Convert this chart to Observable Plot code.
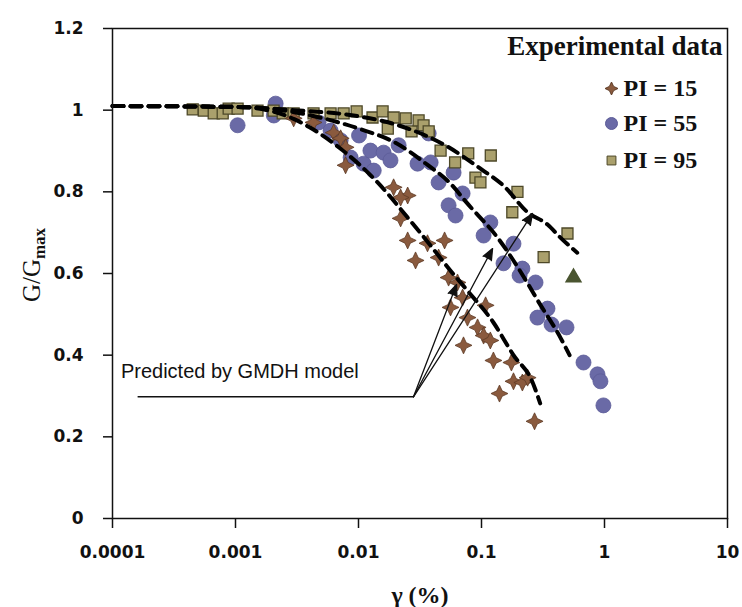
<!DOCTYPE html>
<html>
<head>
<meta charset="utf-8">
<script src="https://cdn.jsdelivr.net/npm/d3@7"></script>
<script src="https://cdn.jsdelivr.net/npm/@observablehq/plot@0.6"></script>
<style>
  html, body { margin: 0; padding: 0; background: #fff; }
  #chart svg { display: block; }
</style>
</head>
<body>
<div id="chart"></div>
<script>
// ---- axis ticks ----
const xTicks = [1e-4, 1e-3, 1e-2, 1e-1, 1, 10];
const xTickLabels = ["0.0001", "0.001", "0.01", "0.1", "1", "10"];
const yTicks = [0, 0.2, 0.4, 0.6, 0.8, 1, 1.2];
const yTickLabels = ["0", "0.2", "0.4", "0.6", "0.8", "1", "1.2"];

// ---- experimental data: PI = 15 (stars) ----
const pi15Gamma = [0.00297, 0.00431, 0.00628, 0.00716, 0.00785, 0.00785, 0.0193, 0.0251, 0.022, 0.022,
  0.0251, 0.0364, 0.0501, 0.0291, 0.0448, 0.054, 0.0638, 0.0702, 0.056, 0.108,
  0.0769, 0.0929, 0.104, 0.118, 0.0714, 0.125, 0.175, 0.182, 0.215, 0.237, 0.14, 0.27];
const pi15G = [0.980, 0.970, 0.945, 0.931, 0.909, 0.865, 0.811, 0.791, 0.786, 0.735,
  0.681, 0.674, 0.681, 0.632, 0.639, 0.590, 0.578, 0.541, 0.517, 0.522,
  0.492, 0.468, 0.448, 0.436, 0.424, 0.387, 0.382, 0.336, 0.333, 0.345, 0.306, 0.238];

// ---- experimental data: PI = 55 (circles) ----
const pi55Gamma = [0.00104, 0.00212, 0.00205, 0.00474, 0.00593, 0.00716, 0.00863, 0.0101, 0.011, 0.0133,
  0.0125, 0.016, 0.0182, 0.0212, 0.0302, 0.0372, 0.0386, 0.0448, 0.0593, 0.0702,
  0.054, 0.0615, 0.118, 0.104, 0.182, 0.151, 0.215, 0.204, 0.275, 0.344,
  0.285, 0.371, 0.491, 0.675, 0.877, 0.927, 0.98];
const pi55G = [0.963, 1.016, 0.987, 0.970, 0.950, 0.926, 0.884, 0.938, 0.869, 0.852,
  0.901, 0.896, 0.877, 0.914, 0.869, 0.943, 0.872, 0.823, 0.847, 0.796,
  0.767, 0.742, 0.725, 0.693, 0.673, 0.625, 0.612, 0.595, 0.578, 0.514,
  0.492, 0.475, 0.468, 0.382, 0.353, 0.336, 0.277];

// ---- experimental data: PI = 95 (squares) ----
const pi95Gamma = [0.000449, 0.000552, 0.000665, 0.000787, 0.00088, 0.00104, 0.00151, 0.00204, 0.00242, 0.00297,
  0.00431, 0.00593, 0.00757, 0.00966, 0.013, 0.0157, 0.0173, 0.0193, 0.0242, 0.027,
  0.0308, 0.0338, 0.0372, 0.0465, 0.061, 0.078, 0.119, 0.0893, 0.098, 0.178,
  0.196, 0.32, 0.50];
const pi95G = [1.002, 0.999, 0.992, 0.992, 1.004, 1.004, 0.999, 0.999, 0.992, 0.992,
  0.992, 0.992, 0.992, 0.997, 0.982, 0.997, 0.955, 0.982, 0.980, 0.948,
  0.975, 0.963, 0.948, 0.901, 0.872, 0.894, 0.889, 0.835, 0.823, 0.750,
  0.800, 0.640, 0.698];

// odd marker (triangle) near the PI = 95 curve end
const triGamma = [0.56];
const triG = [0.59];

// ---- GMDH model curves (dashed) ----
const m15Gamma = [1e-4, 1e-3, 2e-3, 3e-3, 4e-3, 5e-3, 7.2e-3, 0.0143, 0.0251, 0.0338, 0.056, 0.0769, 0.125, 0.182, 0.259, 0.30];
const m15G     = [1.01, 1.008, 0.997, 0.978, 0.958, 0.940, 0.905, 0.823, 0.737, 0.690, 0.607, 0.558, 0.480, 0.400, 0.335, 0.282];
const m55Gamma = [1e-4, 1e-3, 3e-3, 6e-3, 0.01, 0.02, 0.035, 0.056, 0.077, 0.135, 0.237, 0.285, 0.438, 0.52];
const m55G     = [1.01, 1.008, 0.995, 0.975, 0.955, 0.92, 0.87, 0.82, 0.771, 0.688, 0.576, 0.535, 0.443, 0.40];
const m95Gamma = [1e-4, 1e-3, 3e-3, 0.01, 0.02, 0.05, 0.1, 0.151, 0.237, 0.344, 0.438, 0.60];
const m95G     = [1.01, 1.008, 1.0, 0.985, 0.965, 0.915, 0.855, 0.815, 0.75, 0.72, 0.688, 0.651];

// ---- annotation ----
const noteText = "Predicted by GMDH model";
const noteAt = {gamma: 1.17e-4, G: 0.36};
const leaderStart = {gamma: 1.6e-4, G: 0.298};
const leaderJoin = {gamma: 0.028, G: 0.298};
const arrowTipGamma = [0.0627, 0.123, 0.26];
const arrowTipG = [0.573, 0.661, 0.747];

// ---- legend ----
const legendTitle = "Experimental data";
const legendLabels = ["PI = 15", "PI = 55", "PI = 95"];

// ---- colours ----
const c15 = "#8a5a3e", c15s = "#5e3b26";
const c55 = "#6a6aa6", c55s = "#5c5c98";
const c95 = "#aaa06c", c95s = "#4d4828";
const cTri = "#4a5530";

// four-pointed star symbol
const star4 = {
  draw(ctx, size) {
    const R = Math.sqrt(size / Math.PI);
    const w = R * 0.32;
    ctx.moveTo(0, -R);
    ctx.lineTo(w, -w);
    ctx.lineTo(R, 0);
    ctx.lineTo(w, w);
    ctx.lineTo(0, R);
    ctx.lineTo(-w, w);
    ctx.lineTo(-R, 0);
    ctx.lineTo(-w, -w);
    ctx.closePath();
  }
};

const toRows = (gs, Gs) => gs.map((g, i) => ({gamma: g, G: Gs[i]}));
const d15 = toRows(pi15Gamma, pi15G);
const d55 = toRows(pi55Gamma, pi55G);
const d95 = toRows(pi95Gamma, pi95G);
const dTri = toRows(triGamma, triG);
const curves = [toRows(m15Gamma, m15G), toRows(m55Gamma, m55G), toRows(m95Gamma, m95G)];
const arrows = arrowTipGamma.map((g, i) => ({x1: leaderJoin.gamma, y1: leaderJoin.G, x2: g, y2: arrowTipG[i]}));

const serif = "'Liberation Serif', 'Times New Roman', serif";
const legendMarks = [];
const legendSymbols = [star4, "circle", "square"];
const legendFill = [c15, c55, c95];
const legendStroke = [c15s, c55s, c95s];
const legendR = [6.5, 6, 5];
const legendDy = [60, 95, 132];
legendLabels.forEach((lab, i) => {
  legendMarks.push(Plot.dot([lab], {frameAnchor: "top-right", dx: -116, dy: legendDy[i],
    symbol: legendSymbols[i], r: legendR[i], fill: legendFill[i], stroke: legendStroke[i], strokeWidth: 1}));
  legendMarks.push(Plot.text([lab], {frameAnchor: "top-right", dx: -104, dy: legendDy[i], text: d => d,
    textAnchor: "start", lineAnchor: "middle", fontFamily: serif, fontWeight: "bold", fontSize: 24, fill: "#111"}));
});

const chart = Plot.plot({
  width: 742,
  height: 607,
  marginLeft: 112,
  marginRight: 15,
  marginTop: 28,
  marginBottom: 89,
  x: {type: "log", domain: [1e-4, 10]},
  y: {domain: [0, 1.2]},
  style: {fontFamily: "'DejaVu Sans', sans-serif", fontSize: "17px", fontWeight: "bold", color: "#111", background: "#fff"},
  marks: [
    Plot.axisX({ticks: xTicks, tickFormat: d => xTickLabels[xTicks.indexOf(d)], tickSize: 10, tickPadding: 17,
      strokeWidth: 1.5, label: null, fontSize: 17, fontWeight: "bold"}),
    Plot.axisY({ticks: yTicks, tickFormat: d => yTickLabels[yTicks.indexOf(d)], tickSize: 9, tickPadding: 20,
      strokeWidth: 1.5, label: null, fontSize: 17, fontWeight: "bold"}),
    Plot.dot(d55, {x: "gamma", y: "G", r: 7.5, fill: c55, stroke: c55s, strokeWidth: 0.8}),
    Plot.dot(d95, {x: "gamma", y: "G", symbol: "square", r: 6.2, fill: c95, stroke: c95s, strokeWidth: 1.3}),
    Plot.dot(d15, {x: "gamma", y: "G", symbol: star4, r: 8.5, fill: c15, stroke: c15s, strokeWidth: 0.8}),
    Plot.dot(dTri, {x: "gamma", y: "G", symbol: "triangle", r: 5.5, fill: cTri, stroke: cTri}),
    ...curves.map(c => Plot.line(c, {x: "gamma", y: "G", stroke: "#000", strokeWidth: 4,
      strokeDasharray: "11,7", curve: "monotone-x"})),
    Plot.link([leaderStart], {x1: "gamma", y1: "G", x2: leaderJoin.gamma, y2: leaderJoin.G, stroke: "#111", strokeWidth: 1.4}),
    Plot.arrow(arrows, {x1: "x1", y1: "y1", x2: "x2", y2: "y2", stroke: "#111", strokeWidth: 1.3,
      headLength: 14, headAngle: 45}),
    Plot.text([noteText], {x: noteAt.gamma, y: noteAt.G, text: d => d, textAnchor: "start", lineAnchor: "middle",
      fontFamily: "'Liberation Sans', Arial, sans-serif", fontWeight: "normal", fontSize: 20, fill: "#111"}),
    Plot.text([legendTitle], {frameAnchor: "top-right", dx: -5, dy: 18, text: d => d, textAnchor: "end",
      lineAnchor: "middle", fontFamily: serif, fontWeight: "bold", fontSize: 27, fill: "#111"}),
    ...legendMarks,
    Plot.text(["γ (%)"], {frameAnchor: "bottom", dy: 77, text: d => d, lineAnchor: "middle",
      fontFamily: serif, fontWeight: "bold", fontSize: 24, fill: "#111"}),
    Plot.frame({stroke: "#111", strokeWidth: 1.5})
  ]
});

// filled arrowheads
d3.select(chart).selectAll('g[aria-label="arrow"] path')
  .attr("fill", "#111").style("fill", "#111").attr("stroke-linejoin", "miter");

// y-axis title with subscript
const yl = d3.select(chart).append("text")
  .attr("transform", "translate(40,265) rotate(-90)")
  .attr("text-anchor", "middle")
  .attr("font-family", serif)
  .attr("font-weight", "normal")
  .attr("fill", "#111");
yl.append("tspan").attr("font-size", 25).text("G/G");
yl.append("tspan").attr("font-size", 17).attr("font-weight", "bold").attr("dy", 5).text("max");

document.getElementById("chart").appendChild(chart);
</script>
</body>
</html>
